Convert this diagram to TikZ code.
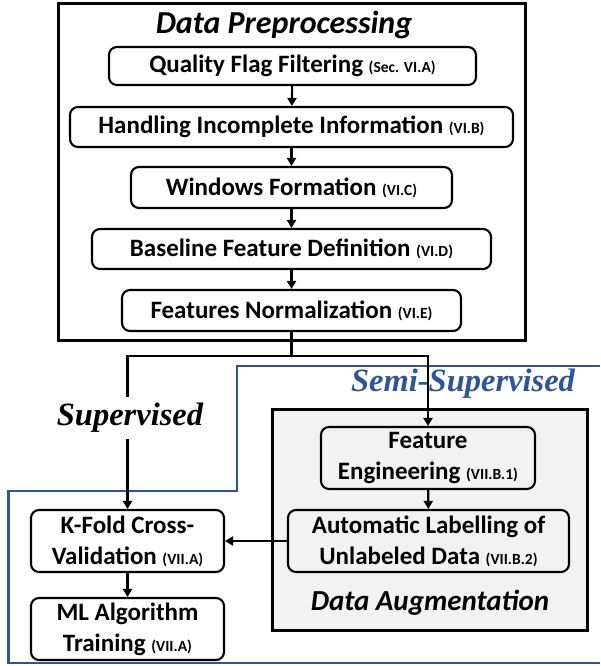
\documentclass[tikz,border=0pt]{standalone}
\usepackage{fontspec}
\setmainfont{Carlito}
\newfontfamily\tnrfont{Liberation Serif}
\usetikzlibrary{arrows.meta}
\definecolor{semiblue}{RGB}{47,85,151}
\definecolor{augray}{RGB}{242,242,242}
\newcommand\rf[1]{{\fontsize{15.5}{18}\selectfont #1}}
\begin{document}
\begin{tikzpicture}[x=1pt,y=-1pt,
  stepbox/.style={draw, line width=2.1pt, rounded corners=8pt, align=center,
    font=\fontsize{25}{31}\selectfont\bfseries, inner sep=0pt, fill=white},
  graybox/.style={stepbox, fill=augray},
  arr/.style={-{Triangle[length=8pt,width=9pt]}, line width=2.1pt},
  conn/.style={line width=2.1pt},
  heading/.style={font=\fontsize{29}{32}\selectfont\bfseries\itshape, inner sep=0pt},
  flowlabel/.style={font=\tnrfont\fontsize{32.5}{34}\selectfont\bfseries\itshape, inner sep=0pt}]
\useasboundingbox (0,0) rectangle (600,666);
% blue semi-supervised frame
\draw[semiblue, line width=2.6pt] (600,366) -- (237,366) -- (237,491) -- (8.5,491) -- (8.5,663) -- (600,663);
\node[flowlabel, text=semiblue] (semi) at (463,384) {Semi-Supervised};
% outer boxes
\draw[line width=3pt] (58.6,4) rectangle (525.5,340);
\node[heading, font=\fontsize{32}{34}\selectfont\bfseries\itshape] (title) at (284,25) {Data Preprocessing};
\draw[line width=3pt, fill=augray] (272,409) rectangle (587,630);
\node[heading] (aug) at (430,603) {Data Augmentation};
% steps
\node[stepbox, minimum width=367pt, minimum height=38pt] (b1) at (292.5,66) {Quality Flag Filtering \rf{(Sec. VI.A)}};
\node[stepbox, minimum width=443pt, minimum height=40pt] (b2) at (291.5,127) {Handling Incomplete Information \rf{(VI.B)}};
\node[stepbox, minimum width=321pt, minimum height=41pt] (b3) at (291.5,187.5) {Windows Formation \rf{(VI.C)}};
\node[stepbox, minimum width=399pt, minimum height=40pt] (b4) at (291.5,249) {Baseline Feature Definition \rf{(VI.D)}};
\node[stepbox, minimum width=339pt, minimum height=41pt] (b5) at (291.5,310.5) {Features Normalization \rf{(VI.E)}};
\node[graybox, minimum width=214pt, minimum height=62pt] (fe) at (428,458) {Feature\\Engineering \rf{(VII.B.1)}};
\node[graybox, minimum width=281pt, minimum height=62pt] (al) at (428.5,541) {Automatic Labelling of\\Unlabeled Data \rf{(VII.B.2)}};
\node[stepbox, minimum width=193pt, minimum height=62pt] (kf) at (127.5,541) {K-Fold Cross-\\Validation \rf{(VII.A)}};
\node[stepbox, minimum width=193pt, minimum height=62pt] (ml) at (127.5,629) {ML Algorithm\\Training \rf{(VII.A)}};
% connectors
\draw[arr] (b1) -- (b2);
\draw[arr] (b2) -- (b3);
\draw[arr] (b3) -- (b4);
\draw[arr] (b4) -- (b5);
\coordinate (split) at (291.5,356);
\draw[conn] (b5.south) -- (split);
\draw[arr] (split) -| (kf.north);
\draw[arr] (split) -| (fe.north);
\draw[arr] (fe) -- (al);
\draw[arr] (al) -- (kf);
\draw[arr] (kf) -- (ml);
\node[flowlabel, fill=white, inner ysep=6pt, inner xsep=2pt] (sup) at (130,418) {Supervised};
\end{tikzpicture}
\end{document}
